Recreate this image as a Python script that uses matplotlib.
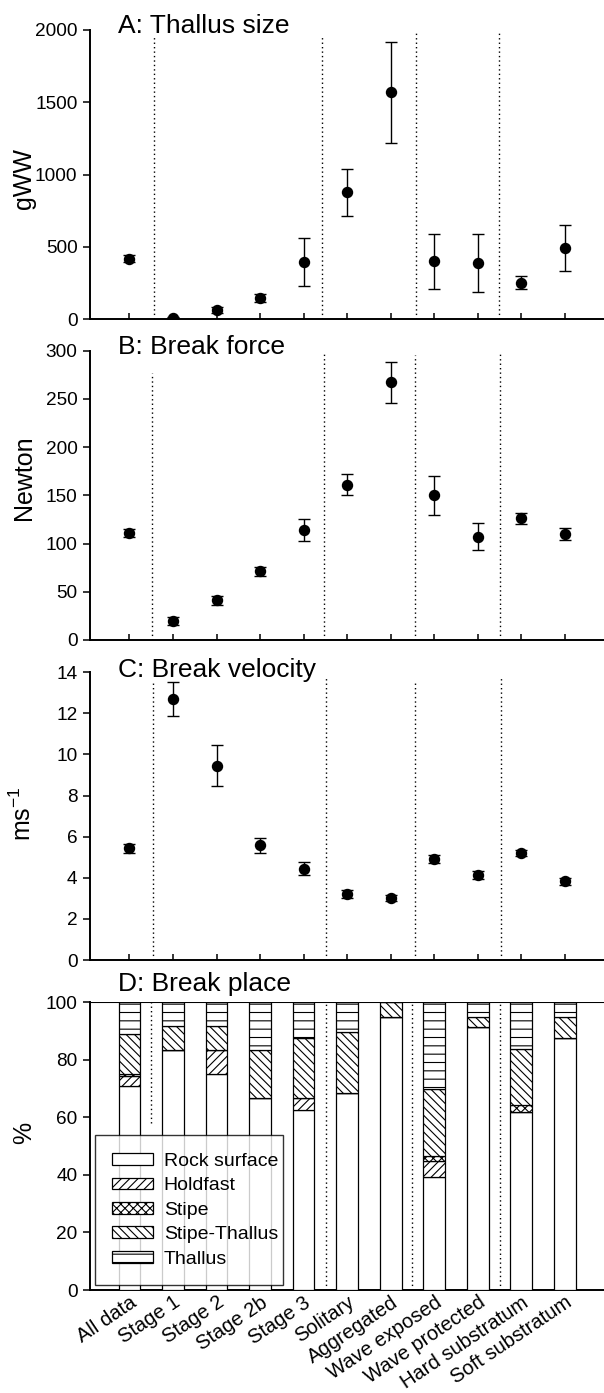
import numpy as np
import matplotlib
matplotlib.use('Agg')
import matplotlib.pyplot as plt

plt.rcParams['font.family'] = ['Liberation Sans', 'DejaVu Sans']
plt.rcParams['mathtext.default'] = 'regular'
plt.rcParams['hatch.linewidth'] = 0.8

categories = ['All data', 'Stage 1', 'Stage 2', 'Stage 2b', 'Stage 3', 'Solitary',
              'Aggregated', 'Wave exposed', 'Wave protected', 'Hard substratum',
              'Soft substratum']

# A: thallus size (gWW), mean and error
size_mean = [420, 12, 65, 148, 395, 878, 1569, 400, 390, 254, 495]
size_err = [25, 6, 22, 28, 168, 161, 348, 190, 200, 44, 159]

# B: break force (N)
force_mean = [111, 20, 41, 71, 114, 161, 267, 150, 107, 126, 110]
force_err = [4, 4, 5, 5, 11, 11, 21, 20, 14, 6, 6]

# C: break velocity (m/s)
vel_mean = [5.43, 12.70, 9.46, 5.58, 4.45, 3.23, 3.03, 4.93, 4.15, 5.21, 3.83]
vel_err = [0.20, 0.85, 1.00, 0.36, 0.32, 0.20, 0.15, 0.20, 0.20, 0.15, 0.17]

# D: break place (%)
rock = [70.9, 83.3, 75.0, 66.7, 62.5, 68.4, 95.0, 39.4, 91.3, 61.8, 87.5]
holdfast = [3.5, 0, 8.3, 0, 4.2, 0, 0, 5.4, 0, 0, 0]
stipe = [0.7, 0, 0, 0, 0, 0, 0, 1.9, 0, 2.4, 0]
stipe_thallus = [13.8, 8.4, 8.4, 16.6, 20.8, 21.1, 5.0, 23.2, 3.7, 19.5, 7.5]
thallus = [11.1, 8.3, 8.3, 16.7, 12.5, 10.5, 0, 30.1, 5.0, 16.3, 5.0]

place_labels = ['Rock surface', 'Holdfast', 'Stipe', 'Stipe-Thallus', 'Thallus']
place_hatches = ['', '////', 'xxxx', '\\\\\\\\', '--']

x = np.arange(len(categories))

fig = plt.figure(figsize=(6.04, 13.93), dpi=100)
left, width = 0.149, 0.851
panels = [
    # bottom, height
    (0.7708, 0.2077),
    (0.5406, 0.2077),
    (0.3108, 0.2066),
    (0.0739, 0.2066),
]
axes = [fig.add_axes([left, b, width, h]) for b, h in panels]

# dotted group separators: (x position, top value)
separators = [
    [(0.57, 1954), (4.43, 1954), (6.58, 1988), (8.49, 1977)],
    [(0.52, 277), (4.47, 296), (6.57, 295), (8.51, 296)],
    [(0.54, 13.47), (4.51, 13.82), (6.55, 13.55), (8.54, 13.82)],
    [(0.49, 100), (4.51, 100), (6.49, 100), (8.50, 100)],
]
sep_bottoms = [[0, 0, 0, 0], [0, 0, 0, 0], [0, 0, 0, 0], [58, 0, 0, 0]]

titles = ['A: Thallus size', 'B: Break force', 'C: Break velocity', 'D: Break place']
title_y = [0.99, 0.99, 0.985, 1.04]
ylabels = ['gWW', 'Newton', 'ms$^{-1}$', '%']
ylabel_y = [0.485, 0.56, 0.51, 0.545]
ylims = [(0, 2000), (0, 300), (0, 14), (0, 100)]
yticks = [np.arange(0, 2001, 500), np.arange(0, 301, 50),
          np.arange(0, 15, 2), np.arange(0, 101, 20)]

for ax, means, errs in zip(axes[:3], [size_mean, force_mean, vel_mean],
                           [size_err, force_err, vel_err]):
    ax.errorbar(x, means, yerr=errs, fmt='o', color='k', ms=7.2,
                capsize=4.6, elinewidth=1.0, capthick=1.0, zorder=5)

# stacked bars for panel D
axd = axes[3]
bottom = np.zeros(len(categories))
for vals, lab, hat in zip([rock, holdfast, stipe, stipe_thallus, thallus],
                          place_labels, place_hatches):
    axd.bar(x, vals, width=0.5, bottom=bottom, color='white', edgecolor='black',
            linewidth=0.9, hatch=hat, label=lab, zorder=3)
    bottom += np.array(vals)
axd.axhline(100, color='black', lw=1.5, zorder=4)

for i, ax in enumerate(axes):
    for (sx, top), sb in zip(separators[i], sep_bottoms[i]):
        ax.plot([sx, sx], [sb, top], color='black', lw=1.0,
                linestyle=(0, (1, 2.2)), zorder=2)
    ax.set_xlim(-0.906, 10.9)
    ax.set_ylim(*ylims[i])
    ax.set_yticks(yticks[i])
    ax.set_xticks(x)
    ax.spines['top'].set_visible(False)
    ax.spines['right'].set_visible(False)
    ax.spines['left'].set_linewidth(1.4)
    ax.spines['bottom'].set_linewidth(1.4)
    ax.tick_params(axis='y', direction='out', length=5, width=1.1,
                   labelsize=13.7, pad=4)
    ax.tick_params(axis='x', direction='in', length=4, width=1.1)
    ax.set_ylabel(ylabels[i], fontsize=18)
    ax.yaxis.set_label_coords(-0.105, ylabel_y[i])
    ax.text(0.055, title_y[i], titles[i], transform=ax.transAxes, fontsize=19,
            ha='left', va='baseline')
    if i < 3:
        ax.set_xticklabels([])

axd.set_xticklabels(categories, rotation=34, ha='right', va='top',
                    rotation_mode='anchor', fontsize=14.5)
axd.tick_params(axis='x', pad=2)

leg = axd.legend(loc='lower left', bbox_to_anchor=(0.0097, 0.0174, 0.366, 0.515),
                 mode='expand', fontsize=14, frameon=True, fancybox=False,
                 handlelength=2.06, handleheight=0.55, handletextpad=0.58,
                 labelspacing=0.38, borderpad=0.9, borderaxespad=0.0)
leg.get_frame().set_edgecolor('black')
leg.get_frame().set_linewidth(1.0)
leg.set_zorder(10)

fig.savefig('out.png', dpi=100)
